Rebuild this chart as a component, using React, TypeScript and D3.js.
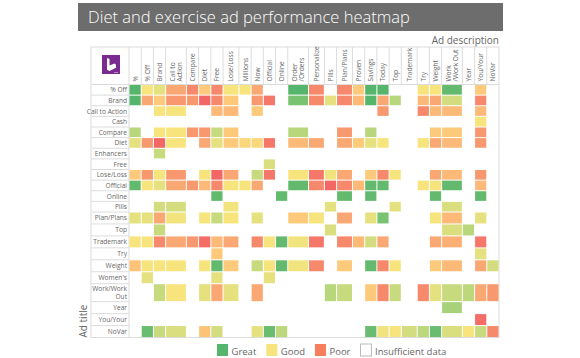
import React, { useEffect, useRef } from "react";
import * as d3 from "d3";

// column labels (ad description), "\n" splits a label over two lines
const columns = [
  "%", "% Off", "Brand", "Call to\nAction", "Compare", "Diet", "Free", "Lose/Loss",
  "Millions", "Now", "Official", "Online", "Order\n/Orders", "Personalize", "Pills",
  "Plan/Plans", "Proven", "Savings", "Today", "Top", "Trademark", "Try", "Weight",
  "Work\n/Work Out", "Year", "You/Your", "NoVar"
];

// row labels (ad title)
const rows = [
  "% Off", "Brand", "Call to Action", "Cash", "Compare", "Diet", "Enhancers", "Free",
  "Lose/Loss", "Official", "Online", "Pills", "Plan/Plans", "Top", "Trademark", "Try",
  "Weight", "Women's", "Work/Work\nOut", "Year", "You/Your", "NoVar"
];

// 1 = great ... 4 = good ... 8 = poor, 0 = insufficient data
const scores = [
  [1, 4, 3.5, 6, 7, 5, 7, 4, 4, 6, 0, 0, 1, 7, 0, 7, 5, 1, 1, 0, 0, 4, 4, 1.2, 0, 5, 0],
  [1, 6, 5, 6.5, 6.5, 8, 7, 5, 0, 6.5, 7.5, 0, 1.5, 7, 3.5, 7, 5.5, 1, 6, 2.5, 0, 5.5, 6, 3, 0, 7, 0],
  [0, 0, 4, 4, 0, 0, 5.5, 5.5, 0, 5, 0, 0, 0, 0, 0, 0, 0, 0, 6.5, 0, 0, 7, 5.5, 5.5, 0, 5.5, 0],
  [0, 0, 0, 0, 0, 0, 0, 0, 0, 0, 0, 0, 0, 0, 0, 0, 0, 0, 0, 0, 0, 0, 0, 0, 0, 4, 0],
  [2.5, 0, 4, 4, 6.5, 6.5, 2.8, 5, 0, 0, 0, 0, 2.5, 0, 0, 6.5, 0, 2.5, 0, 0, 0, 0, 5, 5, 0, 6.5, 0],
  [3.5, 6.5, 8, 4, 0, 6, 3.5, 5, 4.5, 4.5, 7.5, 0, 5.5, 6, 0, 6, 5, 3.5, 4, 0, 0, 4, 6, 5.5, 0, 6.5, 0],
  [0, 0, 2.8, 0, 0, 0, 0, 0, 0, 0, 0, 0, 0, 0, 0, 0, 0, 0, 0, 0, 0, 0, 0, 0, 0, 0, 0],
  [0, 0, 0, 0, 0, 0, 0, 0, 0, 0, 3.2, 0, 0, 0, 0, 0, 0, 0, 0, 0, 0, 0, 0, 0, 0, 0, 0],
  [5, 6.5, 4, 6.5, 0, 4, 8, 6, 0, 2.8, 7.5, 0, 4, 7.5, 3.8, 6, 0, 5, 7, 4, 0, 0, 6, 5.5, 0, 6.5, 0],
  [1.2, 4, 3.5, 6, 6.5, 5.5, 7, 4, 4, 6, 0, 0, 1.2, 7, 8, 7, 5.5, 1.2, 1.2, 0, 0, 4, 4, 1.2, 0, 5.5, 0],
  [0, 0, 0, 0, 0, 0, 1.2, 0, 0, 0, 0, 1.2, 0, 0, 0, 1.2, 0, 1.2, 0, 0, 0, 0, 1.2, 0, 0, 1.2, 0],
  [0, 0, 3, 3, 0, 0, 0, 3.8, 0, 0, 0, 0, 0, 0, 3.5, 0, 0, 0, 0, 3.5, 0, 0, 0, 3.2, 0, 0, 0],
  [3.5, 3.5, 6, 3.8, 0, 4, 2.8, 4, 0, 3.5, 0, 0, 5, 4, 0, 6, 0, 3.5, 1.5, 0, 0, 0, 4, 5.5, 0, 3.5, 0],
  [0, 0, 2.8, 0, 0, 0, 0, 0, 0, 0, 0, 0, 0, 0, 3.2, 0, 0, 0, 0, 0, 0, 0, 0, 3.2, 2.5, 0, 0],
  [4, 4, 7, 6, 6.5, 7.8, 5.5, 6, 0, 7, 4, 1.2, 3.8, 7.5, 0, 7, 5.5, 3, 6, 0, 0, 0, 6, 5.8, 0, 7.5, 0],
  [0, 0, 0, 0, 0, 0, 5, 0, 0, 0, 0, 0, 0, 0, 0, 0, 0, 0, 0, 0, 0, 0, 0, 0, 0, 3.5, 0],
  [5.2, 4, 4, 4, 0, 4, 1.2, 5, 0, 2.8, 4, 1.2, 3.8, 7, 0, 5, 0, 1.2, 7, 4, 0, 0, 5, 5.5, 0, 6, 3],
  [0, 3.5, 0, 0, 0, 0, 3.5, 0, 0, 0, 3.5, 0, 0, 0, 0, 0, 0, 0, 0, 0, 0, 0, 0, 0, 0, 0, 0],
  [0, 0, 2.8, 4, 0, 3.5, 6, 3.5, 0, 6, 0, 0, 0, 0, 2.5, 2.8, 0, 5, 7, 2.8, 0, 7, 3.5, 2.8, 2.6, 6, 6.5],
  [0, 0, 0, 0, 0, 0, 0, 0, 0, 0, 0, 0, 0, 0, 0, 0, 0, 0, 0, 0, 0, 0, 0, 2.2, 0, 0, 0],
  [0, 0, 0, 0, 0, 0, 0, 0, 0, 0, 0, 0, 0, 0, 0, 0, 0, 0, 0, 0, 0, 0, 0, 0, 0, 7.8, 0],
  [0, 1.3, 2.8, 3.2, 0, 5.2, 3, 0, 0, 3.5, 1.3, 2.6, 0, 0, 0, 0, 0, 1.3, 3.8, 4, 3, 2.6, 1.3, 3.2, 4, 2.8, 7]
];

const legendItems = ["Great", "Good", "Poor", "Insufficient data"];

const FONT = "'Segoe UI', 'Open Sans', 'Noto Sans', sans-serif";
const TEXT = "#666";
const LINE = "#dcdcdc";

export default function App() {
  const ref = useRef<SVGSVGElement>(null);

  useEffect(() => {
    const svg = d3.select(ref.current);
    svg.selectAll("*").remove();

    const left = 91, labelRight = 129, right = 499;
    const headTop = 47, headBottom = 84.5, bottom = 337.5;

    // column widths follow the label: two-line labels and long labels get more room
    const colW = columns.map(c => {
      const parts = c.split("\n");
      const longest = d3.max(parts, p => p.length) || 1;
      return 1 + 0.7 * (parts.length - 1) + (parts.length === 1 && longest >= 9 ? 0.3 : 0);
    });
    const colStart = [0, ...Array.from(d3.cumsum(colW))];
    const x = d3.scaleLinear().domain([0, d3.sum(colW)]).range([labelRight, right]);

    // rows: two-line label gets 1.5 units; bottom rows a little taller in the original
    const rowW = rows.map(r => (r.includes("\n") ? 1.5 : 1));
    const rowStart = [0, ...Array.from(d3.cumsum(rowW))];
    const y = d3.scaleLinear().domain([0, 12, d3.sum(rowW)]).range([headBottom, 212, bottom]);

    const color = d3.scaleLinear<string>()
      .domain([1, 2, 3, 4, 5, 6, 7, 8])
      .range(["#55b56c", "#9ccf78", "#d3dd80", "#f8e47d", "#fdca7b", "#faa873", "#f6886b", "#f36666"])
      .clamp(true);

    // title bar
    svg.append("rect").attr("x", 78).attr("y", 3).attr("width", 425).attr("height", 28).attr("fill", "#6d6d6d");
    svg.append("text").attr("x", 88).attr("y", 23).attr("fill", "#fff")
      .attr("font-family", FONT).attr("font-size", 16.5).attr("font-weight", 300)
      .text("Diet and exercise ad performance heatmap");

    svg.append("text").attr("x", right).attr("y", 44).attr("text-anchor", "end")
      .attr("fill", TEXT).attr("font-family", FONT).attr("font-size", 10)
      .text("Ad description");

    // header frame
    const g = svg.append("g");
    g.append("rect").attr("x", left).attr("y", headTop).attr("width", right - left)
      .attr("height", bottom - headTop).attr("fill", "none").attr("stroke", LINE);
    g.append("line").attr("x1", left).attr("x2", right).attr("y1", headBottom).attr("y2", headBottom).attr("stroke", LINE);
    g.append("line").attr("x1", labelRight).attr("x2", labelRight).attr("y1", headTop).attr("y2", bottom).attr("stroke", LINE);

    // column separators + labels
    columns.forEach((c, i) => {
      const x0 = x(colStart[i]), x1 = x(colStart[i + 1]);
      if (i > 0) g.append("line").attr("x1", x0).attr("x2", x0).attr("y1", headTop).attr("y2", headBottom).attr("stroke", LINE);
      const parts = c.split("\n");
      const cx = (x0 + x1) / 2;
      parts.forEach((p, k) => {
        const px = cx + (k - (parts.length - 1) / 2) * 7.5 + 2.5;
        g.append("text")
          .attr("transform", `translate(${px},${headBottom - 3}) rotate(-90)`)
          .attr("fill", TEXT).attr("font-family", FONT).attr("font-size", 6.6)
          .text(p);
      });
    });

    // row separators + labels
    rows.forEach((r, j) => {
      const y0 = y(rowStart[j]), y1 = y(rowStart[j + 1]);
      g.append("line").attr("x1", left).attr("x2", labelRight).attr("y1", y1).attr("y2", y1).attr("stroke", LINE);
      const parts = r.split("\n");
      const cy = (y0 + y1) / 2;
      parts.forEach((p, k) => {
        g.append("text")
          .attr("x", labelRight - 2)
          .attr("y", cy + (k - (parts.length - 1) / 2) * 7.5 + 2.5)
          .attr("text-anchor", "end")
          .attr("fill", TEXT).attr("font-family", FONT).attr("font-size", 6.6)
          .text(p);
      });
    });

    // cells
    const cells: { r: number; c: number; v: number }[] = [];
    scores.forEach((row, r) => row.forEach((v, c) => { if (v > 0) cells.push({ r, c, v }); }));
    g.selectAll("rect.cell").data(cells).enter().append("rect")
      .attr("class", "cell")
      .attr("x", d => x(colStart[d.c]) + 0.5)
      .attr("y", d => y(rowStart[d.r]) + 0.5)
      .attr("width", d => x(colStart[d.c + 1]) - x(colStart[d.c]) - 1)
      .attr("height", d => y(rowStart[d.r + 1]) - y(rowStart[d.r]) - 1)
      .attr("fill", d => color(d.v));

    // logo
    const logo = svg.append("g").attr("transform", "translate(102,55)");
    logo.append("rect").attr("width", 18).attr("height", 19).attr("fill", "#7a2a90");
    logo.append("path").attr("d", "M5,3 L7.5,4 L7.5,10.5 L12.5,8.5 L14,9.8 L14,12.8 L7.5,16 L5,14.8 Z").attr("fill", "#fff");
    logo.append("text").attr("x", 16).attr("y", 17.5).attr("text-anchor", "end")
      .attr("fill", "#fff").attr("font-family", FONT).attr("font-size", 2.5).text("ads");

    // y axis title
    svg.append("text")
      .attr("transform", `translate(86.5,${bottom}) rotate(-90)`)
      .attr("fill", TEXT).attr("font-family", FONT).attr("font-size", 10)
      .text("Ad title");

    // legend
    const legendColors = [color(1), color(4), "#f77e5c", "#fff"];
    let lx = 217;
    legendItems.forEach((name, i) => {
      svg.append("rect").attr("x", lx).attr("y", 344).attr("width", 11).attr("height", 12)
        .attr("fill", legendColors[i]).attr("stroke", i === 3 ? "#bbb" : "none");
      const t = svg.append("text").attr("x", lx + 14.5).attr("y", 354.5)
        .attr("fill", TEXT).attr("font-family", FONT).attr("font-size", 9.5).text(name);
      const w = (t.node() as SVGTextElement).getComputedTextLength();
      lx += 14.5 + w + 10;
    });
  }, []);

  return (
    <svg ref={ref} width={580} height={358} style={{ position: "absolute", left: 0, top: 0, background: "#fff" }} />
  );
}
